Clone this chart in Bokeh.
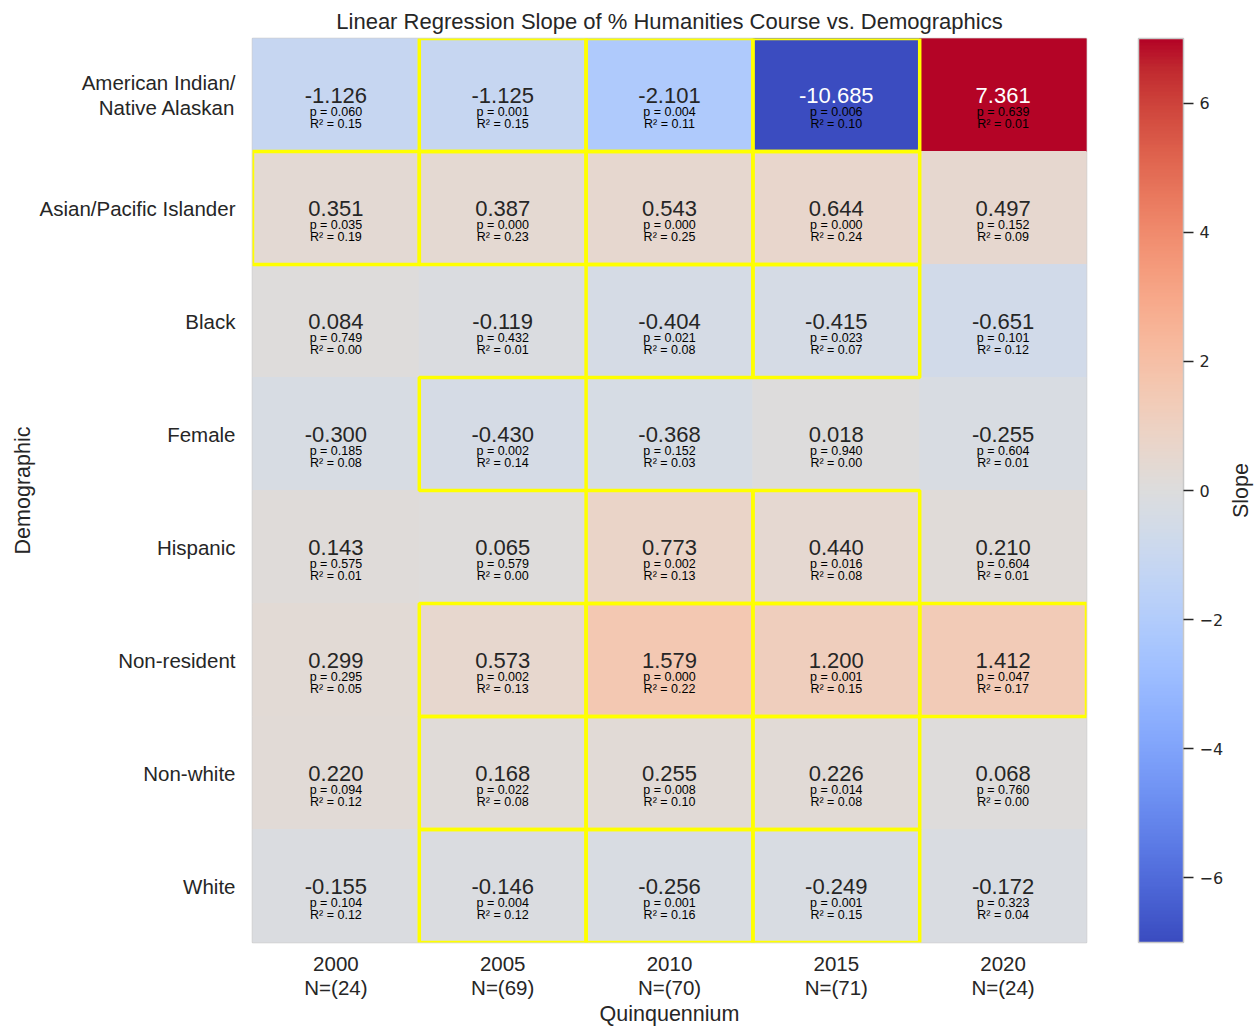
import numpy as np
from math import pi
from bokeh.plotting import figure
from bokeh.layouts import row
from bokeh.models import (ColumnDataSource, FactorRange, LinearColorMapper, ColorBar,
                          FixedTicker, Range1d)
from bokeh.transform import transform
from bokeh.embed import file_html
from bokeh.resources import INLINE

# ---------------- data ----------------
years = ["2000", "2005", "2010", "2015", "2020"]
counts = [24, 69, 70, 71, 24]
demographics = ["American Indian/\nNative Alaskan", "Asian/Pacific Islander", "Black", "Female",
                "Hispanic", "Non-resident", "Non-white", "White"]
slopes = [
    [-1.126, -1.125, -2.101, -10.685, 7.361],
    [0.351, 0.387, 0.543, 0.644, 0.497],
    [0.084, -0.119, -0.404, -0.415, -0.651],
    [-0.300, -0.430, -0.368, 0.018, -0.255],
    [0.143, 0.065, 0.773, 0.440, 0.210],
    [0.299, 0.573, 1.579, 1.200, 1.412],
    [0.220, 0.168, 0.255, 0.226, 0.068],
    [-0.155, -0.146, -0.256, -0.249, -0.172],
]
p_values = [
    [0.060, 0.001, 0.004, 0.006, 0.639],
    [0.035, 0.000, 0.000, 0.000, 0.152],
    [0.749, 0.432, 0.021, 0.023, 0.101],
    [0.185, 0.002, 0.152, 0.940, 0.604],
    [0.575, 0.579, 0.002, 0.016, 0.604],
    [0.295, 0.002, 0.000, 0.001, 0.047],
    [0.094, 0.022, 0.008, 0.014, 0.760],
    [0.104, 0.004, 0.001, 0.001, 0.323],
]
r_squared = [
    [0.15, 0.15, 0.11, 0.10, 0.01],
    [0.19, 0.23, 0.25, 0.24, 0.09],
    [0.00, 0.01, 0.08, 0.07, 0.12],
    [0.08, 0.14, 0.03, 0.00, 0.01],
    [0.01, 0.00, 0.13, 0.08, 0.01],
    [0.05, 0.13, 0.22, 0.15, 0.17],
    [0.12, 0.08, 0.10, 0.08, 0.00],
    [0.12, 0.12, 0.16, 0.15, 0.04],
]
colorbar_ticks = [-6, -4, -2, 0, 2, 4, 6]
colorbar_title = "Slope"
vmin, vmax = -7, 7

# ---------------- coolwarm palette ----------------
_cw = [
    (0.2298057, 0.298717966, 0.753683153), (0.26623388, 0.353094838, 0.801466763),
    (0.30386891, 0.406535296, 0.84495867), (0.342804478, 0.458757618, 0.883725899),
    (0.38301334, 0.50941904, 0.917387822), (0.424369608, 0.558148092, 0.945619588),
    (0.46666708, 0.604562568, 0.968154911), (0.509635204, 0.648280772, 0.98478814),
    (0.552953156, 0.688929332, 0.995375608), (0.596262162, 0.726149107, 0.999836203),
    (0.639176211, 0.759599947, 0.998151185), (0.681291281, 0.788964712, 0.990363227),
    (0.722193294, 0.813952739, 0.976574709), (0.761464949, 0.834302879, 0.956945269),
    (0.798691636, 0.849786142, 0.931688648), (0.833466556, 0.860207984, 0.901068838),
    (0.865395197, 0.86541021, 0.865395561), (0.897787179, 0.848937047, 0.820880546),
    (0.924127593, 0.827384882, 0.774508472), (0.944468518, 0.800927443, 0.726736146),
    (0.958852946, 0.769767752, 0.678007945), (0.96732803, 0.734132809, 0.628751763),
    (0.969954137, 0.694266682, 0.579375448), (0.966811177, 0.650421156, 0.530263762),
    (0.958003065, 0.602842431, 0.481775914), (0.943660866, 0.551750968, 0.434243684),
    (0.923944917, 0.49730856, 0.387970225), (0.89904617, 0.439559467, 0.343229596),
    (0.869186849, 0.378313092, 0.300267182), (0.834620542, 0.312874446, 0.259301199),
    (0.795631745, 0.24128379, 0.220525627), (0.752534934, 0.157246067, 0.184115123),
    (0.705673158, 0.01555616, 0.150232812),
]
_pos = np.linspace(0, 1, len(_cw))
_rgb = np.array(_cw)
_t = np.linspace(0, 1, 256)
_pal_rgb = np.stack([np.interp(_t, _pos, _rgb[:, k]) for k in range(3)], axis=1)
palette = ["#%02x%02x%02x" % tuple(int(round(c * 255)) for c in r) for r in _pal_rgb]


def text_color_for(v):
    idx = int(round(np.clip((v - vmin) / (vmax - vmin), 0, 1) * 255))
    c = _pal_rgb[idx]
    lin = np.where(c <= 0.03928, c / 12.92, ((c + 0.055) / 1.055) ** 2.4)
    lum = 0.2126 * lin[0] + 0.7152 * lin[1] + 0.0722 * lin[2]
    return "#262626" if lum > 0.408 else "white"


x_labels = [f"{y}\nN=({n})" for y, n in zip(years, counts)]

xs, ys, sv, st, pt, rt, tc, sig = [], [], [], [], [], [], [], []
for i, d in enumerate(demographics):
    for j, xl in enumerate(x_labels):
        v = slopes[i][j]
        xs.append(xl)
        ys.append(d)
        sv.append(v)
        st.append(f"{v:.3f}")
        pt.append(f"p = {p_values[i][j]:.3f}")
        rt.append(f"R\u00b2 = {r_squared[i][j]:.2f}")
        tc.append(text_color_for(v))
        sig.append(p_values[i][j] < 0.05)

src = ColumnDataSource(dict(x=xs, y=ys, slope=sv, stxt=st, ptxt=pt, rtxt=rt, tcol=tc))
sig_src = ColumnDataSource(dict(x=[x for x, s in zip(xs, sig) if s],
                                y=[y for y, s in zip(ys, sig) if s]))

FONT = "Liberation Sans"
DARK = "#262626"
TOP, BOTTOM = 38, 86

p = figure(width=1226, height=1028,
           x_range=FactorRange(factors=x_labels),
           y_range=FactorRange(factors=list(reversed(demographics))),
           output_backend="svg", toolbar_location=None,
           min_border_left=252, min_border_right=140, min_border_top=TOP, min_border_bottom=BOTTOM,
           title="Linear Regression Slope of % Humanities Course vs. Demographics")

mapper = LinearColorMapper(palette=palette, low=vmin, high=vmax)

p.rect(x="x", y="y", width=1, height=1, source=src,
       fill_color=transform("slope", mapper), line_color=transform("slope", mapper), line_width=1)
p.rect(x="x", y="y", width=1, height=1, source=sig_src,
       fill_alpha=0, line_color="#ffff00", line_width=3.5)

p.text(x="x", y="y", text="stxt", source=src, text_color="tcol",
       text_font={"value": FONT}, text_font_size="22px",
       text_align="center", text_baseline="middle")
p.text(x="x", y="y", text="ptxt", source=src, text_color="black",
       text_font={"value": FONT}, text_font_size="12.5px",
       text_align="center", text_baseline="middle", y_offset=17)
p.text(x="x", y="y", text="rtxt", source=src, text_color="black",
       text_font={"value": FONT}, text_font_size="12.5px",
       text_align="center", text_baseline="middle", y_offset=29)

p.title.text_font = FONT
p.title.text_font_size = "22px"
p.title.text_font_style = "normal"
p.title.text_color = DARK
p.title.align = "center"

p.grid.visible = False
p.outline_line_color = "#cccccc"
p.outline_line_width = 1.5
for ax in (p.xaxis[0], p.yaxis[0]):
    ax.axis_line_color = None
    ax.major_tick_line_color = None
    ax.minor_tick_line_color = None
    ax.major_tick_out = 0
    ax.major_tick_in = 0
    ax.major_label_text_font = FONT
    ax.major_label_text_font_size = "20.5px"
    ax.major_label_text_color = DARK
    ax.axis_label_text_font = FONT
    ax.axis_label_text_font_size = "21.5px"
    ax.axis_label_text_font_style = "normal"
    ax.axis_label_text_color = DARK

p.xaxis.axis_label = "Quinquennium"
p.xaxis.major_label_standoff = 9
p.xaxis.axis_label_standoff = 0
p.xaxis.major_label_text_line_height = 1.05
p.xaxis.axis_label_text_line_height = 0.95
p.yaxis.axis_label = "Demographic"
p.yaxis.major_label_standoff = 17
p.yaxis.axis_label_standoff = 2
p.yaxis.major_label_text_line_height = 1.05

cb = ColorBar(color_mapper=mapper, ticker=FixedTicker(ticks=colorbar_ticks),
              width=45, height=1028 - TOP - BOTTOM, padding=0, margin=0, location=(52, 0),
              major_tick_out=10, major_tick_in=0, major_tick_line_color=DARK,
              major_tick_line_width=1.5,
              bar_line_color="#c8c8c8", bar_line_width=1.5,
              label_standoff=6, border_line_color=None, background_fill_color=None,
              major_label_text_font="DejaVu Sans", major_label_text_font_size="16px",
              major_label_text_color=DARK,
              major_label_overrides={t: (f"\u2212{abs(t)}" if t < 0 else str(t)) for t in colorbar_ticks})
p.add_layout(cb, "right")

# narrow companion figure carrying the colour bar's title, read bottom-to-top
q = figure(width=30, height=1028, x_range=Range1d(0, 1), y_range=Range1d(0, 1),
           output_backend="svg", toolbar_location=None,
           x_axis_location=None, y_axis_location=None,
           min_border_left=0, min_border_right=0, min_border_top=TOP, min_border_bottom=BOTTOM)
q.grid.visible = False
q.outline_line_color = None
q.text(x=[0.47], y=[0.5], text=[colorbar_title], angle=pi / 2,
       text_font={"value": FONT}, text_font_size="21.5px", text_color=DARK,
       text_align="center", text_baseline="middle")

open("out.html", "w").write(file_html(row(p, q, spacing=0), INLINE))
